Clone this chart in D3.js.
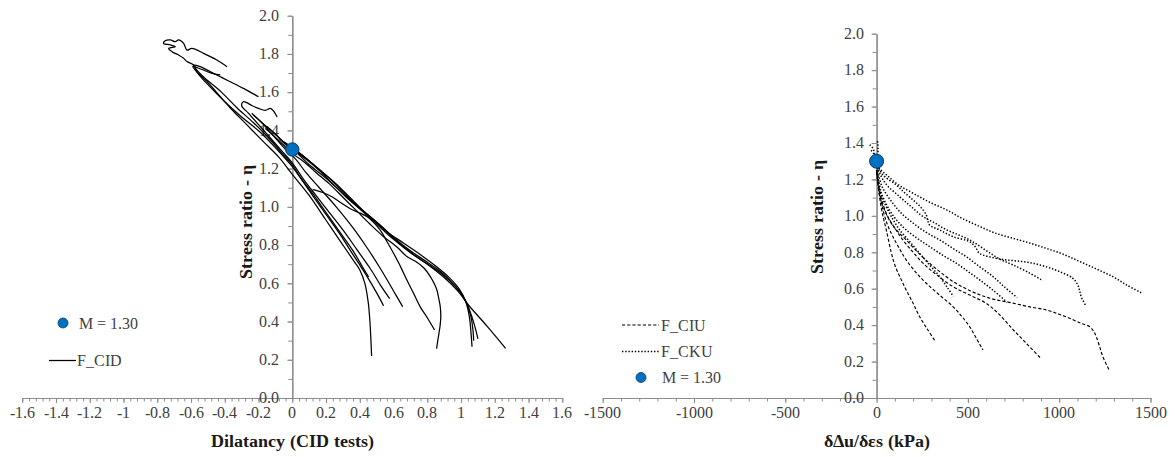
<!DOCTYPE html>
<html>
<head>
<meta charset="utf-8">
<script src="https://cdn.jsdelivr.net/npm/d3@7"></script>
<style>
  @font-face { font-family: "ChartSerif"; font-weight: 400; src: local("Liberation Serif"), local("LiberationSerif"), local("Times New Roman"); }
  @font-face { font-family: "ChartSerif"; font-weight: 700; src: local("Liberation Serif Bold"), local("LiberationSerif-Bold"), local("Times New Roman Bold"); }
  body { margin: 0; background: #fff; }
  svg { display: block; }
  svg text { font-family: "ChartSerif", "Liberation Serif", "Times New Roman"; }
</style>
</head>
<body>
<svg id="chart" width="1175" height="457"></svg>
<script>
// ---- Left panel: stress ratio vs dilatancy, drained (CID) tests ----
// each test is a list of [dilatancy, stress ratio]
const cidTests = [
  [[0.47,0.22],[0.466,0.30],[0.46,0.40],[0.45,0.50],[0.43,0.60],[0.40,0.67],[0.37,0.71],[0.30,0.80],[0.20,0.93],[0.10,1.06],[0.0,1.17],[-0.08,1.26],[-0.17,1.34],[-0.27,1.43],[-0.37,1.52],[-0.45,1.60],[-0.51,1.66],[-0.56,1.70],[-0.59,1.735],[-0.54,1.72],[-0.48,1.70],[-0.427,1.69]],
  [[0.452,0.634],[0.42,0.68],[0.36,0.77],[0.28,0.87],[0.20,0.97],[0.12,1.07],[0.05,1.15],[0.0,1.21],[-0.09,1.30],[-0.19,1.39],[-0.30,1.47],[-0.40,1.55],[-0.49,1.63],[-0.56,1.70],[-0.585,1.742],[-0.624,1.76],[-0.644,1.777],[-0.674,1.794],[-0.713,1.812],[-0.733,1.829],[-0.693,1.838],[-0.723,1.847],[-0.763,1.855],[-0.753,1.869],[-0.723,1.873],[-0.693,1.864],[-0.674,1.873],[-0.644,1.855],[-0.624,1.82],[-0.595,1.829],[-0.526,1.803],[-0.447,1.768],[-0.387,1.733]],
  [[0.541,0.483],[0.50,0.55],[0.44,0.64],[0.36,0.75],[0.28,0.86],[0.20,0.96],[0.12,1.06],[0.05,1.15],[0.0,1.22],[-0.06,1.28],[-0.14,1.36],[-0.23,1.44],[-0.33,1.52],[-0.42,1.60],[-0.50,1.66],[-0.55,1.70],[-0.585,1.74],[-0.55,1.735],[-0.47,1.70],[-0.38,1.66],[-0.29,1.62],[-0.20,1.576]],
  [[0.577,0.52],[0.53,0.58],[0.46,0.68],[0.38,0.78],[0.30,0.88],[0.22,0.97],[0.14,1.06],[0.07,1.14],[0.0,1.23],[-0.06,1.29],[-0.13,1.36],[-0.20,1.43],[-0.26,1.49],[-0.30,1.53],[-0.29,1.55],[-0.27,1.545],[-0.24,1.53],[-0.20,1.515],[-0.16,1.505],[-0.13,1.515],[-0.11,1.50],[-0.09,1.47]],
  [[0.654,0.478],[0.60,0.56],[0.52,0.68],[0.44,0.79],[0.36,0.89],[0.26,1.00],[0.16,1.10],[0.08,1.18],[0.02,1.25],[-0.04,1.30],[-0.11,1.37],[-0.18,1.44],[-0.23,1.48]],
  [[0.843,0.356],[0.80,0.42],[0.758,0.477],[0.72,0.545],[0.679,0.617],[0.64,0.69],[0.60,0.757],[0.56,0.82],[0.52,0.879],[0.48,0.92],[0.442,0.949],[0.39,0.972],[0.344,0.99],[0.29,1.02],[0.235,1.053],[0.18,1.075],[0.136,1.088],[0.12,1.09]],
  [[0.855,0.258],[0.862,0.30],[0.869,0.338],[0.876,0.38],[0.88,0.425],[0.877,0.477],[0.868,0.52],[0.857,0.565],[0.84,0.60],[0.818,0.635],[0.78,0.68],[0.73,0.715],[0.679,0.74],[0.62,0.79],[0.541,0.844],[0.46,0.91],[0.38,0.98],[0.30,1.05],[0.22,1.12],[0.14,1.18],[0.07,1.235],[0.0,1.28],[-0.06,1.33],[-0.12,1.38],[-0.16,1.41]],
  [[1.065,0.268],[1.06,0.33],[1.05,0.42],[1.03,0.50],[0.99,0.57],[0.93,0.63],[0.85,0.69],[0.76,0.75],[0.66,0.81],[0.56,0.87],[0.48,0.93],[0.40,0.99],[0.32,1.05],[0.24,1.12],[0.16,1.19],[0.08,1.25],[0.02,1.29],[-0.04,1.33],[-0.10,1.38],[-0.15,1.42]],
  [[1.075,0.30],[1.07,0.36],[1.06,0.42],[1.04,0.48],[1.00,0.55],[0.95,0.60],[0.88,0.66],[0.80,0.71],[0.70,0.77],[0.60,0.84],[0.50,0.92],[0.42,0.98],[0.34,1.05],[0.26,1.12],[0.18,1.18],[0.10,1.24],[0.03,1.29],[-0.03,1.32],[-0.08,1.36]],
  [[1.10,0.31],[1.08,0.38],[1.05,0.46],[1.02,0.52],[0.97,0.58],[0.90,0.64],[0.82,0.69],[0.72,0.75],[0.62,0.82],[0.54,0.89],[0.46,0.95],[0.38,1.01],[0.30,1.08],[0.22,1.15],[0.14,1.21],[0.06,1.27],[0.0,1.31],[-0.05,1.34]],
  [[1.264,0.26],[1.15,0.38],[1.05,0.48],[0.98,0.56],[0.90,0.63],[0.80,0.70],[0.70,0.76],[0.60,0.83],[0.50,0.91],[0.40,0.99],[0.30,1.07],[0.20,1.15],[0.10,1.22],[0.03,1.28],[-0.03,1.32],[-0.10,1.38],[-0.18,1.44],[-0.24,1.49]]
];

// ---- Right panel: stress ratio vs pore-pressure rate, undrained tests ----
// each test is a list of [dδu/dεs (kPa), stress ratio]
const ciuTests = [
  [[0,1.24],[8,1.18],[16,1.105],[30,1.02],[53,0.923],[80,0.80],[100,0.73],[130,0.66],[162,0.593],[200,0.52],[235,0.447],[280,0.375],[323,0.309]],
  [[0,1.25],[12,1.15],[35,1.032],[60,0.95],[89,0.886],[125,0.82],[162,0.758],[215,0.69],[272,0.63],[345,0.565],[418,0.502],[465,0.45],[509,0.392],[545,0.33],[582,0.264]],
  [[0,1.25],[20,1.12],[53,1.014],[95,0.94],[144,0.868],[200,0.80],[254,0.74],[330,0.675],[418,0.612],[510,0.565],[600,0.52],[670,0.46],[746,0.377],[820,0.30],[901,0.216]],
  [[0,1.24],[15,1.12],[40,1.04],[80,0.96],[120,0.91],[162,0.868],[225,0.80],[290,0.74],[350,0.69],[418,0.64],[490,0.60],[564,0.567],[650,0.54],[746,0.521],[840,0.50],[928,0.484],[1000,0.46],[1056,0.438],[1120,0.41],[1166,0.392],[1190,0.365],[1203,0.337],[1222,0.28],[1239,0.227],[1272,0.157]]
];
const ckuTests = [
  [[-30,1.36],[-10,1.33],[0,1.29],[16,1.26],[60,1.22],[120,1.17],[200,1.124],[290,1.075],[383,1.033],[470,0.985],[566,0.941],[650,0.905],[746,0.877],[840,0.85],[928,0.822],[1020,0.79],[1111,0.75],[1200,0.71],[1294,0.666],[1370,0.62],[1449,0.578]],
  [[-38,1.39],[-20,1.37],[0,1.30],[30,1.23],[107,1.17],[150,1.13],[200,1.087],[240,1.05],[272,1.005],[280,0.975],[290,0.95],[350,0.92],[418,0.886],[509,0.858],[540,0.83],[564,0.794],[640,0.77],[710,0.758],[790,0.75],[856,0.74],[930,0.72],[1002,0.694],[1075,0.657],[1102,0.62],[1112,0.59],[1120,0.557],[1148,0.502]],
  [[5,1.41],[8,1.36],[0,1.30],[40,1.19],[126,1.105],[190,1.05],[254,0.996],[320,0.96],[383,0.923],[450,0.895],[509,0.868],[570,0.83],[637,0.785],[690,0.755],[746,0.731],[830,0.69],[911,0.644]],
  [[0,1.28],[30,1.16],[89,1.069],[140,1.01],[200,0.96],[270,0.91],[345,0.868],[420,0.82],[491,0.776],[565,0.72],[637,0.667],[700,0.61],[770,0.551]],
  [[0,1.27],[25,1.13],[71,1.032],[115,0.97],[162,0.923],[225,0.875],[290,0.831],[360,0.785],[436,0.74],[500,0.695],[564,0.649],[640,0.59],[715,0.525]],
  [[0,1.27],[20,1.13],[53,1.05],[90,0.98],[126,0.923],[180,0.86],[235,0.795],[290,0.73],[345,0.667],[385,0.61],[421,0.557]]
];

// critical-state stress ratio
const criticalM = 1.30;

// tick labels
const dilatancyTicks = [-1.6,-1.4,-1.2,-1,-0.8,-0.6,-0.4,-0.2,0,0.2,0.4,0.6,0.8,1,1.2,1.4,1.6];
const etaTicks = [0,0.2,0.4,0.6,0.8,1.0,1.2,1.4,1.6,1.8,2.0];
const rateTicks = [-1500,-1000,-500,0,500,1000,1500];

const svg = d3.select("#chart");
const axisGrey = "#8c8c8c";
const labelColor = "#404040";
const dotFill = "#0070C0";
const dotStroke = "#0b3c6b";

// scales
const xL = d3.scaleLinear().domain([-1.6, 1.6]).range([22.3, 562.3]);
const yL = d3.scaleLinear().domain([0, 2]).range([398, 15.7]);
const xR = d3.scaleLinear().domain([-1500, 1500]).range([602.7, 1150.5]);
const yR = d3.scaleLinear().domain([0, 2]).range([398, 33.7]);

// plain SVG text helper (face comes from the stylesheet)
function addText(sel, x, y, s, size, opts = {}) {
  const t = sel.append("text").attr("x", x).attr("y", y)
    .attr("font-size", size)
    .attr("fill", opts.fill || labelColor)
    .attr("text-anchor", opts.anchor || "start")
    .text(s);
  if (opts.bold) t.attr("font-weight", "bold");
  if (opts.dy) t.attr("dy", opts.dy);
  if (opts.transform) t.attr("transform", opts.transform);
  return t;
}

function drawPanel(x, y, xTicks, xMinorStep, xFmt) {
  const [x0, x1] = x.domain();
  const g = svg.append("g");
  // x: minor ticks, then major ticks
  g.append("g").attr("transform", `translate(0,${y(0)})`)
    .call(d3.axisBottom(x).tickValues(d3.range(x0, x1 + xMinorStep / 2, xMinorStep)).tickSize(3.5).tickFormat("").tickSizeOuter(0));
  g.append("g").attr("transform", `translate(0,${y(0)})`)
    .call(d3.axisBottom(x).tickValues(xTicks).tickSize(5).tickFormat("").tickSizeOuter(0));
  // y: minor and major ticks
  g.append("g").attr("transform", `translate(${x(0)},0)`)
    .call(d3.axisLeft(y).tickValues(d3.range(0, 2.05, 0.1)).tickSize(4).tickFormat("").tickSizeOuter(0));
  g.append("g").attr("transform", `translate(${x(0)},0)`)
    .call(d3.axisLeft(y).tickValues(etaTicks).tickSize(5).tickFormat("").tickSizeOuter(0));
  g.selectAll("g").attr("font-family", null);
  g.selectAll(".domain").attr("stroke", axisGrey).attr("stroke-width", 1.2);
  g.selectAll(".tick line").attr("stroke", axisGrey).attr("stroke-width", 1);
  // tick labels
  xTicks.forEach(v => addText(g, x(v), y(0) + 20, xFmt(v), 16, { anchor: "middle" }));
  etaTicks.forEach(v => addText(g, x(0) - 13, y(v), d3.format(".1f")(v), 16, { anchor: "end", dy: "0.33em" }));
}

drawPanel(xL, yL, dilatancyTicks, 0.04, d => String(+d.toFixed(2)));
drawPanel(xR, yR, rateTicks, 100, d => String(d));

// curves
const lineL = d3.line().x(d => xL(d[0])).y(d => yL(d[1])).curve(d3.curveCatmullRom.alpha(0.5));
const lineR = d3.line().x(d => xR(d[0])).y(d => yR(d[1])).curve(d3.curveCatmullRom.alpha(0.5));

svg.append("g").selectAll("path").data(cidTests).join("path")
  .attr("d", lineL).attr("fill", "none").attr("stroke", "#000").attr("stroke-width", 1.25)
  .attr("stroke-linejoin", "round");

svg.append("g").selectAll("path").data(ciuTests).join("path")
  .attr("d", lineR).attr("fill", "none").attr("stroke", "#000").attr("stroke-width", 1.15)
  .attr("stroke-dasharray", "3.2,2");

svg.append("g").selectAll("path").data(ckuTests).join("path")
  .attr("d", lineR).attr("fill", "none").attr("stroke", "#000").attr("stroke-width", 1.5)
  .attr("stroke-dasharray", "1.4,1.8");

// critical state points
svg.append("circle").attr("cx", xL(0)).attr("cy", yL(criticalM)).attr("r", 6.7)
  .attr("fill", dotFill).attr("stroke", dotStroke).attr("stroke-width", 1);
svg.append("circle").attr("cx", xR(0)).attr("cy", yR(criticalM)).attr("r", 7)
  .attr("fill", dotFill).attr("stroke", dotStroke).attr("stroke-width", 1);

// axis titles
addText(svg, xL(0), 447, "Dilatancy (CID tests)", 18, { anchor: "middle", bold: true, fill: "#1a1a1a" });
addText(svg, 0, 0, "Stress ratio - η", 18, { anchor: "middle", bold: true, fill: "#1a1a1a", transform: "translate(252,222) rotate(-90)" });
addText(svg, xR(0), 447, "δΔu/δεs (kPa)", 18, { anchor: "middle", bold: true, fill: "#1a1a1a" });
addText(svg, 0, 0, "Stress ratio - η", 18, { anchor: "middle", bold: true, fill: "#1a1a1a", transform: "translate(823,217) rotate(-90)" });

// legends
svg.append("circle").attr("cx", 63).attr("cy", 323).attr("r", 5)
  .attr("fill", dotFill).attr("stroke", dotStroke).attr("stroke-width", 0.8);
addText(svg, 79, 328.5, `M = ${criticalM.toFixed(2)}`, 16);
svg.append("line").attr("x1", 49).attr("x2", 76).attr("y1", 360.5).attr("y2", 360.5)
  .attr("stroke", "#000").attr("stroke-width", 1.25);
addText(svg, 77, 366, "F_CID", 16);

svg.append("line").attr("x1", 622).attr("x2", 659).attr("y1", 325).attr("y2", 325)
  .attr("stroke", "#000").attr("stroke-width", 1.15).attr("stroke-dasharray", "3.2,2");
addText(svg, 661, 330.5, "F_CIU", 16);
svg.append("line").attr("x1", 622).attr("x2", 659).attr("y1", 351.5).attr("y2", 351.5)
  .attr("stroke", "#000").attr("stroke-width", 1.5).attr("stroke-dasharray", "1.4,1.8");
addText(svg, 661, 357, "F_CKU", 16);
svg.append("circle").attr("cx", 641).attr("cy", 377.5).attr("r", 5)
  .attr("fill", dotFill).attr("stroke", dotStroke).attr("stroke-width", 0.8);
addText(svg, 662, 383, `M = ${criticalM.toFixed(2)}`, 16);
</script>
</body>
</html>
